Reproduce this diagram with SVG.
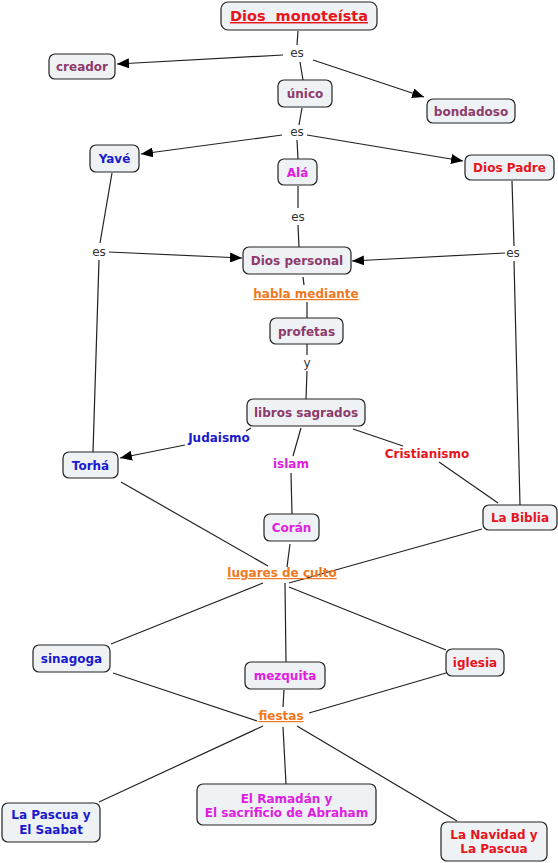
<svg xmlns="http://www.w3.org/2000/svg" width="558" height="863" viewBox="0 0 558 863">
<style>
.n{fill:#eef2f5;stroke:#222;stroke-width:1.2}
.t{font-family:"DejaVu Sans",Verdana,sans-serif;font-size:12px;font-weight:bold;text-anchor:middle}
.l{font-family:"DejaVu Sans",Verdana,sans-serif;font-size:12px;text-anchor:middle;fill:#333}
.m{fill:#8e3a6a}.r{fill:#e8141c}.b{fill:#1a1acc}.p{fill:#e020e0}.o{fill:#f07820;text-decoration:underline}
.c line{stroke:#222;stroke-width:1.2}
</style>
<defs>
<marker id="a" viewBox="0 0 12 10" refX="12" refY="5" markerWidth="12" markerHeight="10" orient="auto" markerUnits="userSpaceOnUse"><path d="M0,0L12,5L0,10z" fill="#000"/></marker>
</defs>
<rect width="558" height="863" fill="#fff"/>
<g class="c" id="connectors">
<line x1="298" y1="31" x2="297" y2="45"/>
<line x1="283" y1="55" x2="117" y2="64" marker-end="url(#a)"/>
<line x1="313" y1="60" x2="424" y2="97" marker-end="url(#a)"/>
<line x1="300" y1="62" x2="303" y2="80"/>
<line x1="302" y1="108" x2="299" y2="125"/>
<line x1="282" y1="135" x2="141" y2="154" marker-end="url(#a)"/>
<line x1="307" y1="135" x2="463" y2="161" marker-end="url(#a)"/>
<line x1="297" y1="140" x2="298" y2="159"/>
<line x1="298" y1="186" x2="298" y2="208"/>
<line x1="298" y1="225" x2="299" y2="247"/>
<line x1="112" y1="173" x2="100" y2="243"/>
<line x1="109" y1="252" x2="242" y2="258" marker-end="url(#a)"/>
<line x1="99" y1="260" x2="93" y2="452"/>
<line x1="512" y1="181" x2="514" y2="246"/>
<line x1="505" y1="253" x2="352" y2="261" marker-end="url(#a)"/>
<line x1="514" y1="261" x2="520" y2="505"/>
<line x1="303" y1="277" x2="304" y2="285"/>
<line x1="307" y1="302" x2="307" y2="318"/>
<line x1="307" y1="344" x2="307" y2="355"/>
<line x1="307" y1="371" x2="306" y2="399"/>
<line x1="251" y1="428" x2="246" y2="431"/>
<line x1="185" y1="445" x2="120" y2="458" marker-end="url(#a)"/>
<line x1="301" y1="428" x2="293" y2="456"/>
<line x1="291" y1="473" x2="292" y2="514"/>
<line x1="353" y1="429" x2="403" y2="446"/>
<line x1="439" y1="462" x2="498" y2="503"/>
<line x1="121" y1="482" x2="268" y2="566"/>
<line x1="290" y1="544" x2="287" y2="567"/>
<line x1="482" y1="529" x2="289" y2="583"/>
<line x1="263" y1="583" x2="111" y2="644"/>
<line x1="285" y1="583" x2="286" y2="662"/>
<line x1="289" y1="587" x2="446" y2="650"/>
<line x1="113" y1="673" x2="257" y2="721"/>
<line x1="284" y1="690" x2="283" y2="707"/>
<line x1="446" y1="673" x2="309" y2="713"/>
<line x1="263" y1="726" x2="99" y2="802"/>
<line x1="283" y1="727" x2="286" y2="784"/>
<line x1="297" y1="726" x2="457" y2="821"/>
</g>
<g id="linking-labels">
<text class="l" x="297" y="57">es</text>
<text class="l" x="297" y="136">es</text>
<text class="l" x="298" y="221">es</text>
<text class="l" x="99" y="256">es</text>
<text class="l" x="513" y="257">es</text>
<text class="t o" x="306" y="298">habla mediante</text>
<text class="l" x="307" y="367">y</text>
<text class="t b" x="219" y="442">Judaismo</text>
<text class="t p" x="291" y="468">islam</text>
<text class="t r" x="427" y="458">Cristianismo</text>
<text class="t o" x="282" y="577">lugares de culto</text>
<text class="t o" x="281" y="720">fiestas</text>
</g>
<g id="n-dios-monoteista"><rect class="n" x="221" y="2" width="156" height="28" rx="7"/><text class="t r" x="299" y="21" style="font-size:14.5px;text-decoration:underline;white-space:pre">Dios  monoteísta</text></g>
<g id="n-creador"><rect class="n" x="49" y="54" width="66" height="25" rx="6"/><text class="t m" x="82" y="71">creador</text></g>
<g id="n-unico"><rect class="n" x="278" y="80" width="54" height="27" rx="6"/><text class="t m" x="305" y="98">único</text></g>
<g id="n-bondadoso"><rect class="n" x="427" y="99" width="88" height="24" rx="6"/><text class="t m" x="471" y="115.5">bondadoso</text></g>
<g id="n-yave"><rect class="n" x="90" y="145" width="49" height="27" rx="6"/><text class="t b" x="114.5" y="163">Yavé</text></g>
<g id="n-ala"><rect class="n" x="278" y="159" width="39" height="26" rx="6"/><text class="t p" x="297.5" y="176.5">Alá</text></g>
<g id="n-dios-padre"><rect class="n" x="465" y="155" width="89" height="25" rx="6"/><text class="t r" x="509.5" y="172">Dios Padre</text></g>
<g id="n-dios-personal"><rect class="n" x="243" y="247" width="108" height="27" rx="6"/><text class="t m" x="297" y="265">Dios personal</text></g>
<g id="n-profetas"><rect class="n" x="270" y="318" width="73" height="26" rx="6"/><text class="t m" x="306.5" y="335.5">profetas</text></g>
<g id="n-libros"><rect class="n" x="247" y="399" width="118" height="27" rx="6"/><text class="t m" x="306" y="417">libros sagrados</text></g>
<g id="n-torha"><rect class="n" x="63" y="452" width="55" height="26" rx="6"/><text class="t b" x="90.5" y="469.5">Torhá</text></g>
<g id="n-coran"><rect class="n" x="264" y="514" width="55" height="27" rx="6"/><text class="t p" x="291.5" y="532">Corán</text></g>
<g id="n-biblia"><rect class="n" x="483" y="505" width="74" height="25" rx="6"/><text class="t r" x="520" y="522">La Biblia</text></g>
<g id="n-sinagoga"><rect class="n" x="33" y="645" width="77" height="27" rx="6"/><text class="t b" x="71.5" y="663">sinagoga</text></g>
<g id="n-mezquita"><rect class="n" x="245" y="662" width="80" height="27" rx="6"/><text class="t p" x="285" y="680">mezquita</text></g>
<g id="n-iglesia"><rect class="n" x="446" y="649" width="58" height="27" rx="6"/><text class="t r" x="475" y="667">iglesia</text></g>
<g id="n-pascua-saabat"><rect class="n" x="2" y="803" width="98" height="39" rx="6"/><text class="t b" x="51" y="819">La Pascua y</text><text class="t b" x="51" y="834">El Saabat</text></g>
<g id="n-ramadan"><rect class="n" x="197" y="784" width="179" height="41" rx="6"/><text class="t p" x="286.5" y="803">El Ramadán y</text><text class="t p" x="286.5" y="817">El sacrificio de Abraham</text></g>
<g id="n-navidad"><rect class="n" x="441" y="822" width="106" height="39" rx="6"/><text class="t r" x="494" y="839">La Navidad y</text><text class="t r" x="494" y="853">La Pascua</text></g>
</svg>
